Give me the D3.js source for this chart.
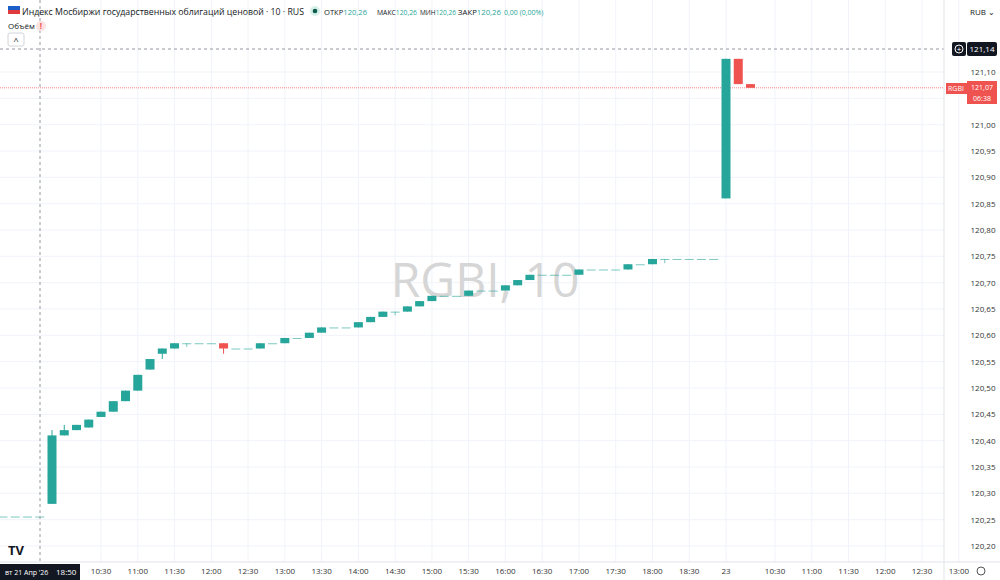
<!DOCTYPE html>
<html><head><meta charset="utf-8">
<script src="https://cdn.jsdelivr.net/npm/d3@7"></script>
<style>body{margin:0;background:#fff;font-family:"Open Sans",sans-serif}</style>
</head><body>
<script>
// 10-minute candles, 21 Apr (09:50-18:50) then 23rd (09:50-10:10)
var times = ['09:50','10:00','10:10','10:20','10:30','10:40','10:50','11:00','11:10','11:20','11:30','11:40','11:50','12:00','12:10','12:20','12:30','12:40','12:50','13:00','13:10','13:20','13:30','13:40','13:50','14:00','14:10','14:20','14:30','14:40','14:50','15:00','15:10','15:20','15:30','15:40','15:50','16:00','16:10','16:20','16:30','16:40','16:50','17:00','17:10','17:20','17:30','17:40','17:50','18:00','18:10','18:20','18:30','18:40','18:50','09:50','10:00','10:10'];
var opens = [120.28,120.41,120.42,120.425,120.445,120.455,120.475,120.495,120.535,120.565,120.575,120.585,120.585,120.585,120.585,120.575,120.575,120.575,120.585,120.585,120.595,120.595,120.605,120.615,120.615,120.615,120.625,120.635,120.645,120.645,120.655,120.665,120.675,120.675,120.675,120.685,120.685,120.685,120.695,120.705,120.715,120.715,120.715,120.715,120.725,120.725,120.725,120.725,120.735,120.735,120.745,120.745,120.745,120.745,120.745,120.86,121.125,121.077];
var closes = [120.41,120.42,120.43,120.44,120.455,120.475,120.495,120.525,120.555,120.575,120.585,120.585,120.585,120.585,120.575,120.575,120.575,120.585,120.585,120.595,120.595,120.605,120.615,120.615,120.615,120.625,120.635,120.645,120.645,120.655,120.665,120.675,120.675,120.675,120.685,120.685,120.685,120.695,120.705,120.715,120.715,120.715,120.715,120.725,120.725,120.725,120.725,120.735,120.735,120.745,120.745,120.745,120.745,120.745,120.745,121.125,121.077,121.07];
var highs = [120.42,120.43,120.43,120.44,120.455,120.475,120.495,120.525,120.555,120.575,120.585,120.585,120.585,120.585,120.585,120.575,120.575,120.585,120.585,120.595,120.595,120.605,120.615,120.615,120.615,120.625,120.635,120.645,120.645,120.655,120.665,120.675,120.675,120.675,120.685,120.685,120.685,120.695,120.705,120.715,120.715,120.715,120.715,120.725,120.725,120.725,120.725,120.735,120.735,120.745,120.745,120.745,120.745,120.745,120.745,121.125,121.125,121.077];
var lows = [120.28,120.41,120.42,120.425,120.445,120.455,120.475,120.495,120.535,120.555,120.575,120.578,120.585,120.585,120.565,120.575,120.575,120.575,120.585,120.585,120.595,120.595,120.605,120.615,120.615,120.615,120.625,120.635,120.638,120.645,120.655,120.665,120.675,120.675,120.675,120.685,120.685,120.685,120.695,120.705,120.715,120.715,120.715,120.715,120.725,120.725,120.725,120.725,120.735,120.735,120.737,120.745,120.745,120.745,120.745,120.86,121.077,121.07];
var prevDay = [-4,-3,-2,-1], prevPrice = 120.255;
var priceTicks = [120.20,120.25,120.30,120.35,120.40,120.45,120.50,120.55,120.60,120.65,120.70,120.75,120.80,120.85,120.90,120.95,121.00,121.05,121.10];
var timeTickIdx = [4,7,10,13,16,19,22,25,28,31,34,37,40,43,46,49,52,55,59,62,65,68,71,74];
var timeTickLabels = ['10:30','11:00','11:30','12:00','12:30','13:00','13:30','14:00','14:30','15:00','15:30','16:00','16:30','17:00','17:30','18:00','18:30','23','10:30','11:00','11:30','12:00','12:30','13:00'];

var W = 1000, H = 580, plotR = 944, plotB = 562;
var up = '#26a69a', down = '#ef5350';
var svg = d3.select('body').append('svg').attr('width', W).attr('height', H);
var x = d3.scaleLinear().domain([0, 55]).range([52, 726]);
var y = d3.scaleLinear().domain([120.20, 121.10]).range([546, 72]);
var fmt = function (v) { return d3.format('.2f')(v).replace('.', ','); };

// grid
svg.append('g').selectAll('line').data(timeTickIdx).enter().append('line')
    .attr('x1', function (d) { return x(d); }).attr('x2', function (d) { return x(d); })
    .attr('y1', 0).attr('y2', plotB).attr('stroke', '#f0f3fa');
svg.append('g').selectAll('line').data(priceTicks).enter().append('line')
    .attr('x1', 0).attr('x2', plotR).attr('y1', function (d) { return y(d); }).attr('y2', function (d) { return y(d); })
    .attr('stroke', '#f0f3fa');

// watermark
svg.append('text').attr('x', 485).attr('y', 297).attr('text-anchor', 'middle')
    .attr('font-size', 48).attr('fill', '#d6d6d6').text('RGBI, 10');

// current price line
svg.append('line').attr('x1', 0).attr('x2', plotR).attr('y1', y(121.07)).attr('y2', y(121.07))
    .attr('stroke', down).attr('stroke-width', 0.7).attr('stroke-dasharray', '1,1');

// previous day dashes
svg.append('g').selectAll('line').data(prevDay).enter().append('line')
    .attr('x1', function (d) { return x(d) - 4.5; }).attr('x2', function (d) { return x(d) + 4.5; })
    .attr('y1', y(prevPrice)).attr('y2', y(prevPrice)).attr('stroke', up).attr('opacity', 0.6);

// candles
var bw = 9;
var c = svg.append('g').selectAll('g').data(times).enter().append('g');
c.append('line')
    .attr('x1', function (d, i) { return x(i); }).attr('x2', function (d, i) { return x(i); })
    .attr('y1', function (d, i) { return y(highs[i]); }).attr('y2', function (d, i) { return y(lows[i]); })
    .attr('stroke', function (d, i) { return closes[i] < opens[i] ? down : up; })
    .attr('opacity', function (d, i) { return opens[i] === closes[i] ? 0.6 : 1; });
c.append('rect')
    .attr('x', function (d, i) { return x(i) - bw / 2; }).attr('width', bw)
    .attr('y', function (d, i) { return y(Math.max(opens[i], closes[i])); })
    .attr('height', function (d, i) { return Math.max(1, Math.abs(y(opens[i]) - y(closes[i]))); })
    .attr('fill', function (d, i) { return closes[i] < opens[i] ? down : up; })
    .attr('opacity', function (d, i) { return opens[i] === closes[i] ? 0.6 : 1; });

// crosshair
svg.append('line').attr('x1', 40).attr('x2', 40).attr('y1', 0).attr('y2', plotB)
    .attr('stroke', '#9598a1').attr('stroke-dasharray', '3,3');
svg.append('line').attr('x1', 0).attr('x2', plotR).attr('y1', 49).attr('y2', 49)
    .attr('stroke', '#9598a1').attr('stroke-dasharray', '3,3');

// axes (tick at 121,05 is covered by the current-price label)
svg.append('line').attr('x1', plotR).attr('x2', plotR).attr('y1', 0).attr('y2', H).attr('stroke', '#e0e3eb');
svg.append('line').attr('x1', 0).attr('x2', W).attr('y1', plotB).attr('y2', plotB).attr('stroke', '#e0e3eb');
svg.append('g').selectAll('text').data(priceTicks.filter(function (d) { return Math.abs(y(d) - y(121.07)) > 12; }))
    .enter().append('text')
    .attr('x', 983).attr('y', function (d) { return y(d) + 3; }).attr('text-anchor', 'middle')
    .attr('font-size', 8).attr('fill', '#333').text(fmt);
svg.append('g').selectAll('text').data(timeTickIdx).enter().append('text')
    .attr('x', function (d) { return x(d); }).attr('y', 574).attr('text-anchor', 'middle')
    .attr('font-size', 8).attr('fill', '#333').text(function (d, i) { return timeTickLabels[i]; });

// price labels
svg.append('rect').attr('x', 967).attr('y', 42).attr('width', 30).attr('height', 14).attr('rx', 2).attr('fill', '#131722');
svg.append('text').attr('x', 982).attr('y', 52).attr('text-anchor', 'middle').attr('font-size', 8).attr('fill', '#fff').text(fmt(121.14));
svg.append('rect').attr('x', 952).attr('y', 42).attr('width', 14).attr('height', 14).attr('rx', 2).attr('fill', '#131722');
svg.append('circle').attr('cx', 959).attr('cy', 49).attr('r', 4).attr('fill', 'none').attr('stroke', '#fff');
svg.append('text').attr('x', 959).attr('y', 52).attr('text-anchor', 'middle').attr('font-size', 8).attr('fill', '#fff').text('+');
svg.append('rect').attr('x', 967).attr('y', 81).attr('width', 30).attr('height', 23).attr('fill', down);
svg.append('text').attr('x', 982).attr('y', 90).attr('text-anchor', 'middle').attr('font-size', 7).attr('fill', '#fff').text(fmt(121.07));
svg.append('text').attr('x', 982).attr('y', 101).attr('text-anchor', 'middle').attr('font-size', 7).attr('fill', '#fff').text('06:38');
svg.append('rect').attr('x', 946).attr('y', 83).attr('width', 21).attr('height', 11).attr('fill', down);
svg.append('text').attr('x', 956).attr('y', 91).attr('text-anchor', 'middle').attr('font-size', 7).attr('fill', '#fff').text('RGBI');

// crosshair time label
svg.append('rect').attr('x', 0).attr('y', 564).attr('width', 80).attr('height', 16).attr('fill', '#131722');
svg.append('text').attr('x', 5).attr('y', 575).attr('font-size', 7).attr('fill', '#fff').text("вт 21 Апр '26");
svg.append('text').attr('x', 56).attr('y', 575).attr('font-size', 8).attr('fill', '#fff').text('18:50');
svg.append('circle').attr('cx', 981).attr('cy', 571).attr('r', 4).attr('fill', 'none').attr('stroke', '#555');

// header
svg.append('rect').attr('x', 8).attr('y', 6).attr('width', 12).attr('height', 4).attr('fill', '#1c5fc9');
svg.append('rect').attr('x', 8).attr('y', 10).attr('width', 12).attr('height', 4).attr('fill', '#e03a3e');
svg.append('text').attr('x', 22).attr('y', 15).attr('font-size', 9).attr('fill', '#131722')
    .attr('textLength', 282).attr('lengthAdjust', 'spacingAndGlyphs')
    .text('Индекс Мосбиржи государственных облигаций ценовой · 10 · RUS');
svg.append('circle').attr('cx', 315).attr('cy', 11).attr('r', 5).attr('fill', '#d6efe9');
svg.append('circle').attr('cx', 315).attr('cy', 11).attr('r', 2.3).attr('fill', '#0b5c49');
var hdr = [['ОТКР', 324, 43], ['МАКС', 377, 40], ['МИН', 420, 36], ['ЗАКР', 458, 43]];
hdr.forEach(function (h) {
    var t = svg.append('text').attr('x', h[1]).attr('y', 15).attr('font-size', 7)
        .attr('textLength', h[2]).attr('lengthAdjust', 'spacingAndGlyphs');
    t.append('tspan').attr('fill', '#131722').text(h[0]);
    t.append('tspan').attr('fill', up).text('120,26');
});
svg.append('text').attr('x', 504).attr('y', 15).attr('font-size', 7).attr('fill', up).text('0,00 (0,00%)');
svg.append('text').attr('x', 970).attr('y', 15).attr('font-size', 8).attr('fill', '#131722').text('RUB ⌄');
svg.append('text').attr('x', 8).attr('y', 29).attr('font-size', 8).attr('fill', '#131722').text('Объём');
svg.append('circle').attr('cx', 41).attr('cy', 26).attr('r', 5).attr('fill', '#fde2e2');
svg.append('text').attr('x', 41).attr('y', 29).attr('text-anchor', 'middle').attr('font-size', 8).attr('font-weight', 'bold').attr('fill', down).text('!');
svg.append('rect').attr('x', 8).attr('y', 33).attr('width', 16).attr('height', 13).attr('rx', 2).attr('fill', '#fff').attr('stroke', '#d1d4dc');
svg.append('text').attr('x', 16).attr('y', 44).attr('text-anchor', 'middle').attr('font-size', 9).attr('fill', '#131722').text('^');
svg.append('text').attr('x', 8).attr('y', 555).attr('font-size', 13).attr('font-weight', 'bold').attr('fill', '#131722').text('TV');
</script>
</body></html>
